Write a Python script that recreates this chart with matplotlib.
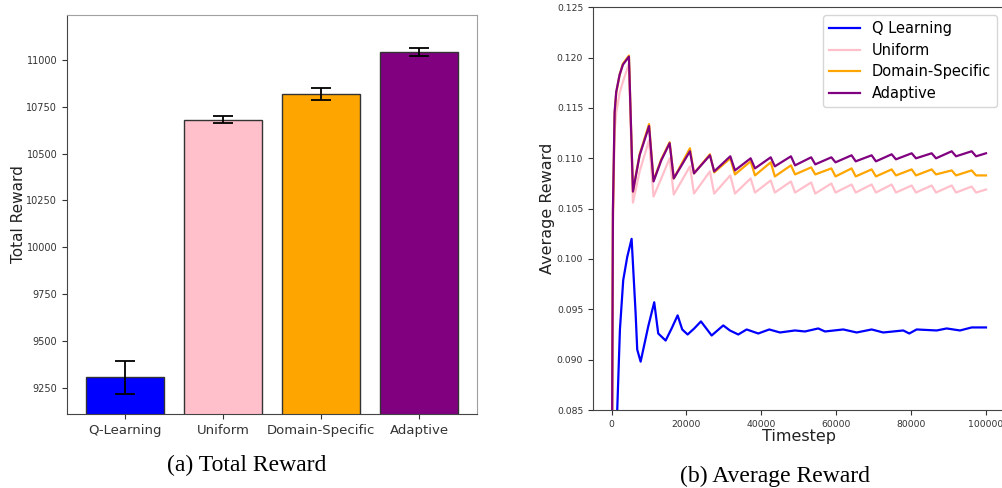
import numpy as np
import matplotlib
matplotlib.use("Agg")
import matplotlib.pyplot as plt

# ---------------- data: left panel ----------------
methods = ["Q-Learning", "Uniform", "Domain-Specific", "Adaptive"]
total_reward = [9307, 10682, 10820, 11043]
total_err = [88, 21, 32, 22]
bar_colors = ["blue", "pink", "orange", "purple"]

# ---------------- data: right panel ----------------
# shared key times of the saw-tooth curves (peaks then troughs)
peak_t = [4620, 10000, 15500, 20920, 26260, 31700, 37130, 42500, 47900,
          53300, 58700, 64100, 69460, 74800, 80150, 85490, 90840, 96180]
trough_t = [5700, 11200, 16600, 22000, 27400, 32950, 38300, 43600, 49000,
            54400, 59800, 65200, 70600, 75950, 81300, 86650, 92000, 97350]
start_t = [0, 350, 800, 1230, 2140, 3020]
mid_t = [7480, 13260]
end_t = [100000]

adaptive_start = [0.070, 0.1049, 0.1146, 0.1166, 0.1183, 0.1193]
adaptive_peak = [0.1201, 0.1132, 0.1115, 0.1107, 0.1103, 0.1102, 0.1100, 0.1101, 0.1102,
                 0.1101, 0.1101, 0.1103, 0.1103, 0.1104, 0.1105, 0.1105, 0.1107, 0.1107]
adaptive_trough = [0.1067, 0.1077, 0.1080, 0.1085, 0.1087, 0.1088, 0.1090, 0.1092, 0.1093,
                   0.1094, 0.1096, 0.1097, 0.1097, 0.1099, 0.1100, 0.1100, 0.1102, 0.1102]
adaptive_mid = [0.1103, 0.1098]
adaptive_end = [0.1105]

domain_start = [0.070, 0.1045, 0.1144, 0.1165, 0.1183, 0.1194]
domain_peak = [0.1202, 0.1134, 0.1116, 0.1110, 0.1104, 0.1100, 0.1097, 0.1096, 0.1093,
               0.1091, 0.1090, 0.1090, 0.1089, 0.1089, 0.1089, 0.1089, 0.1088, 0.1088]
domain_trough = [0.1067, 0.1078, 0.1080, 0.1085, 0.1086, 0.1084, 0.1083, 0.1082, 0.1084,
                 0.1084, 0.1082, 0.1082, 0.1082, 0.1083, 0.1083, 0.1084, 0.1083, 0.1083]
domain_mid = [0.1104, 0.1099]
domain_end = [0.1083]

uniform_start = [0.070, 0.1030, 0.1127, 0.1145, 0.1165, 0.1176]
uniform_peak = [0.1194, 0.1118, 0.1100, 0.1092, 0.1087, 0.1083, 0.1080, 0.1078, 0.1077,
                0.1076, 0.1075, 0.1074, 0.1074, 0.1074, 0.1073, 0.1073, 0.1073, 0.1072]
uniform_trough = [0.1056, 0.1062, 0.1064, 0.1065, 0.1065, 0.1065, 0.1066, 0.1066, 0.1066,
                  0.1065, 0.1066, 0.1066, 0.1066, 0.1066, 0.1066, 0.1066, 0.1066, 0.1066]
uniform_mid = [0.1087, 0.1080]
uniform_end = [0.1069]

q_t = [0, 1500, 2220, 3100, 4170, 5340, 6410, 6840, 7750, 9780, 11380, 12450, 14430,
       16030, 17630, 18860, 20300, 22070, 23860, 26720, 29820, 31600, 33830, 36070,
       39170, 42110, 44970, 48970, 51640, 55200, 56990, 61880, 65460, 69460, 72560,
       77900, 79510, 81480, 86830, 89500, 93060, 96180, 100000]
q_v = [0.075, 0.085, 0.0930, 0.0979, 0.1002, 0.1020, 0.0946, 0.0910, 0.0898, 0.0933,
       0.0957, 0.0926, 0.0919, 0.0931, 0.0944, 0.0930, 0.0925, 0.0931, 0.0938, 0.0924,
       0.0934, 0.0929, 0.0925, 0.0930, 0.0926, 0.0930, 0.0927, 0.0929, 0.0928, 0.0931,
       0.0928, 0.0930, 0.0927, 0.0930, 0.0927, 0.0929, 0.0926, 0.0930, 0.0929, 0.0931,
       0.0929, 0.0932, 0.0932]

legend_labels = ["Q Learning", "Uniform", "Domain-Specific", "Adaptive"]
line_colors = ["blue", "pink", "orange", "purple"]


def assemble(start, peak, trough, mid, end):
    t = list(start_t) + list(peak_t) + list(trough_t) + list(mid_t) + list(end_t)
    v = list(start) + list(peak) + list(trough) + list(mid) + list(end)
    order = np.argsort(t)
    return np.array(t)[order], np.array(v)[order]


# ---------------- figure ----------------
W, H = 1002, 488
fig = plt.figure(figsize=(W / 100, H / 100), dpi=100)

tick_color = "#333333"

# left panel
ax1 = fig.add_axes([67 / W, 1 - 414 / H, (477 - 67) / W, (414 - 15) / H])
x = np.arange(len(methods))
ax1.bar(x, total_reward, width=0.8, color=bar_colors, edgecolor="#333333", linewidth=1.0,
        yerr=total_err, capsize=7.5, error_kw=dict(ecolor="black", elinewidth=1.3, capthick=1.3))
ax1.set_ylim(9110, 11240)
ax1.set_yticks([9250, 9500, 9750, 10000, 10250, 10500, 10750, 11000])
ax1.set_xticks(x)
ax1.set_xticklabels(methods, fontsize=9.5, color=tick_color)
ax1.tick_params(axis="y", labelsize=7, colors=tick_color, length=3.5)
ax1.tick_params(axis="x", length=3.5, colors=tick_color)
ax1.set_ylabel("Total Reward", fontsize=11, color="#222222")
ax1.yaxis.set_label_coords(-41 / 410, 0.5)
for side in ["top", "right"]:
    ax1.spines[side].set_color("#a0a0a0")
for side in ["left", "bottom"]:
    ax1.spines[side].set_color("#444444")

# right panel
ax2 = fig.add_axes([592.9 / W, 1 - 410 / H, (1004.7 - 592.9) / W, (410 - 7.3) / H])
series = [
    (np.array(q_t), np.array(q_v)),
    assemble(uniform_start, uniform_peak, uniform_trough, uniform_mid, uniform_end),
    assemble(domain_start, domain_peak, domain_trough, domain_mid, domain_end),
    assemble(adaptive_start, adaptive_peak, adaptive_trough, adaptive_mid, adaptive_end),
]
for (t, v), lab, c in zip(series, legend_labels, line_colors):
    ax2.plot(t, v, color=c, lw=1.6, label=lab)
ax2.set_ylim(0.085, 0.125)
ax2.set_xlim(-5000, 105000)
ax2.set_yticks([0.085, 0.090, 0.095, 0.100, 0.105, 0.110, 0.115, 0.120, 0.125])
ax2.set_yticklabels(["0.085", "0.090", "0.095", "0.100", "0.105", "0.110", "0.115", "0.120", "0.125"])
ax2.set_xticks([0, 20000, 40000, 60000, 80000, 100000])
ax2.tick_params(axis="both", labelsize=6.7, colors=tick_color, length=3.5)
ax2.set_xlabel("Timestep", fontsize=11.5, color="#222222", labelpad=0)
ax2.set_ylabel("Average Reward", fontsize=11.5, color="#222222")
ax2.yaxis.set_label_coords(-38 / 412, 0.5)
for side in ax2.spines:
    ax2.spines[side].set_color("#444444")
leg = ax2.legend(loc="upper right", fontsize=10.5, handlelength=2.1, borderpad=0.45,
                 labelspacing=0.45, framealpha=0.8)

# captions
fig.text(247 / W, 1 - 465 / H, "(a) Total Reward", ha="center", va="center",
         fontsize=17, family="Liberation Serif")
fig.text(775 / W, 1 - 476 / H, "(b) Average Reward", ha="center", va="center",
         fontsize=17, family="Liberation Serif")

fig.savefig("out.png", dpi=100)
